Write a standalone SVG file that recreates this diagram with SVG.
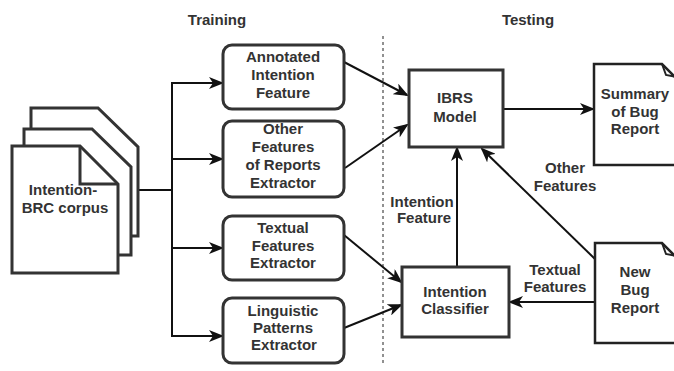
<svg xmlns="http://www.w3.org/2000/svg" width="674" height="371" viewBox="0 0 674 371">
<style>
text{font-family:"Liberation Sans",Arial,sans-serif;font-weight:bold;font-size:15px;fill:#333;text-anchor:middle}
.box{fill:#fff;stroke:#333;stroke-width:3}
.doc{fill:#fff;stroke:#222;stroke-width:2.5;stroke-linejoin:miter}
.cd{fill:#fff;stroke:#333;stroke-width:3}
.c{fill:none;stroke:#111;stroke-width:2}
.a{fill:none;stroke:#111;stroke-width:2;marker-end:url(#arr)}
</style>
<defs>
<marker id="arr" markerUnits="userSpaceOnUse" markerWidth="15" markerHeight="12" refX="13" refY="6" orient="auto">
<path d="M0,0 L15,6 L0,12 L4,6 Z" fill="#111"/>
</marker>
</defs>
<g id="titles">
<text x="217" y="25">Training</text>
<text x="528" y="25">Testing</text>
</g>
<line x1="383" y1="36" x2="383" y2="366" stroke="#222" stroke-width="1" stroke-dasharray="3,3"/>
<g id="connectors">
<line class="c" x1="138" y1="190" x2="172" y2="190"/>
<line class="c" x1="172" y1="82" x2="172" y2="337"/>
<line class="a" x1="171" y1="83" x2="222" y2="83"/>
<line class="a" x1="172" y1="159" x2="222" y2="159"/>
<line class="a" x1="172" y1="248" x2="222" y2="248"/>
<line class="a" x1="171" y1="336" x2="222" y2="336"/>
<line class="a" x1="344" y1="62" x2="407" y2="95"/>
<line class="a" x1="345" y1="168" x2="407" y2="125"/>
<line class="a" x1="344" y1="235" x2="401" y2="282"/>
<line class="a" x1="344" y1="328" x2="401" y2="305"/>
<line class="a" x1="503" y1="109" x2="593" y2="109"/>
<line class="a" x1="457" y1="266" x2="457" y2="148"/>
<line class="a" x1="595" y1="259" x2="482" y2="149"/>
<line class="a" x1="594" y1="302" x2="510" y2="302"/>
</g>
<g id="corpus">
<path class="cd" d="M31,108 H98 L138,147 V236 H31 Z"/>
<path class="cd" d="M24,129 H92 L131,167 V255 H24 Z"/>
<path class="cd" d="M12,146 H80 L118,184 V273 H12 Z"/>
<path d="M80,146 V184 H118" fill="none" stroke="#333" stroke-width="3"/>
<text x="63" y="195">Intention-</text>
<text x="65" y="213">BRC corpus</text>
</g>
<g id="annotated">
<rect class="box" x="223" y="45" width="121" height="64" rx="9"/>
<text x="283" y="62">Annotated</text>
<text x="283" y="80">Intention</text>
<text x="283" y="98">Feature</text>
</g>
<g id="other">
<rect class="box" x="223" y="121" width="121" height="76" rx="9"/>
<text x="283" y="134">Other</text>
<text x="283" y="152">Features</text>
<text x="283" y="170">of Reports</text>
<text x="283" y="188">Extractor</text>
</g>
<g id="textual">
<rect class="box" x="223" y="216" width="121" height="64" rx="9"/>
<text x="283" y="233">Textual</text>
<text x="283" y="251">Features</text>
<text x="283" y="268">Extractor</text>
</g>
<g id="linguistic">
<rect class="box" x="223" y="298" width="121" height="65" rx="9"/>
<text x="283" y="316">Linguistic</text>
<text x="283" y="333">Patterns</text>
<text x="284" y="350">Extractor</text>
</g>
<g id="ibrs">
<rect class="box" x="409" y="70" width="94" height="77"/>
<text x="455" y="103">IBRS</text>
<text x="455" y="122">Model</text>
</g>
<g id="classifier">
<rect class="box" x="402" y="267" width="107" height="70"/>
<text x="455" y="297">Intention</text>
<text x="455" y="314">Classifier</text>
</g>
<g id="summary">
<path class="doc" d="M594,64 H662 L680,82 V165 H594 Z"/>
<path d="M662,64 L666,75 L676,77" fill="none" stroke="#222" stroke-width="2"/>
<text x="635" y="99">Summary</text>
<text x="635" y="117">of Bug</text>
<text x="635" y="134">Report</text>
</g>
<g id="newbug">
<path class="doc" d="M595,243 H662 L680,261 V343 H595 Z"/>
<path d="M662,243 L666,254 L676,256" fill="none" stroke="#222" stroke-width="2"/>
<text x="635" y="277">New</text>
<text x="635" y="295">Bug</text>
<text x="635" y="313">Report</text>
</g>
<g id="labels">
<text x="422" y="207">Intention</text>
<text x="424" y="223">Feature</text>
<text x="565" y="173">Other</text>
<text x="565" y="191">Features</text>
<text x="555" y="275">Textual</text>
<text x="555" y="292">Features</text>
</g>
</svg>
